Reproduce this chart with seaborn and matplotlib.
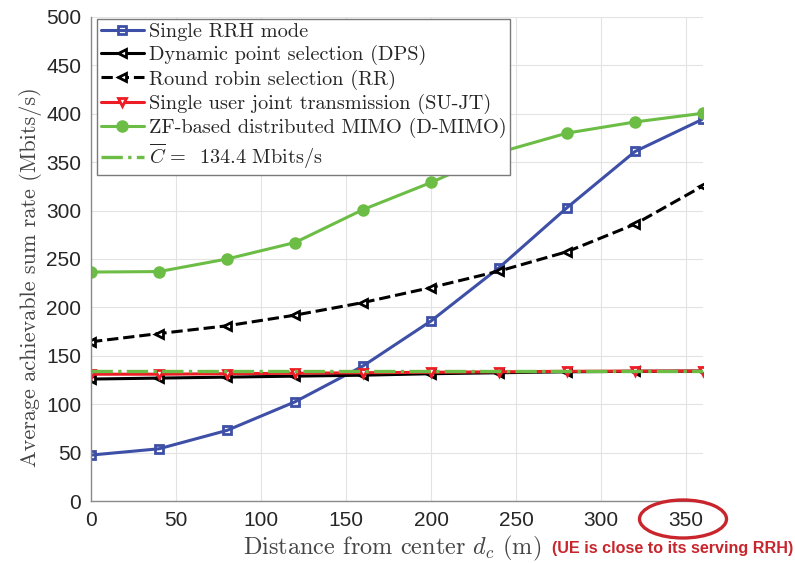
import matplotlib
matplotlib.use("Agg")
import matplotlib.pyplot as plt
from matplotlib.patches import Ellipse
import seaborn as sns

# Veriler
mesafe = [0, 40, 80, 120, 160, 200, 240, 280, 320, 360]
tek_rrh = [47.5, 54, 73, 102.5, 139.5, 186, 241, 303, 361, 394.5]
dps = [126, 127, 128, 129, 130, 131.5, 132.5, 133.5, 134, 134.2]
rr = [164.5, 173, 181, 192, 205, 220.5, 237.5, 257.5, 286, 325.5]
su_jt = [131, 131, 131.5, 132, 132.5, 133, 133.5, 134, 134.2, 134.3]
d_mimo = [236.5, 237, 250, 267, 301, 329, 360, 380, 391.5, 400.5]
C_ORT = 134.4

SERI_ADLARI = [
    "Single RRH mode",
    "Dynamic point selection (DPS)",
    "Round robin selection (RR)",
    "Single user joint transmission (SU-JT)",
    "ZF-based distributed MIMO (D-MIMO)",
]
X_TIKLER = [0, 50, 100, 150, 200, 250, 300, 350]
Y_TIKLER = [0, 50, 100, 150, 200, 250, 300, 350, 400, 450, 500]

MAVI = "#3d4fa6"
YESIL = "#6cbd45"
KIRMIZI = "#ee1c25"
SIYAH = "#000000"
ANOT_KIRMIZI = "#c9252c"

sns.set_theme(style="whitegrid")
plt.rcParams["font.family"] = ["cmr10", "DejaVu Serif"]
plt.rcParams["mathtext.fontset"] = "cm"
plt.rcParams["axes.formatter.use_mathtext"] = True

fig = plt.figure(figsize=(7.95, 5.63), dpi=100)
ax = fig.add_axes([0.1145, 0.110, 0.7698, 0.860])

# (değerler, renk, çizgi, işaret, iç renk, boyut)
stiller = [
    (tek_rrh, MAVI, "-", "s", "none", 5.5),
    (dps, SIYAH, "-", "<", "white", 6),
    (rr, SIYAH, "--", "<", "white", 6),
    (su_jt, KIRMIZI, "-", "v", "white", 6),
    (d_mimo, YESIL, "-", "o", YESIL, 7),
]
for (degerler, renk, cizgi, isaret, ic, boyut), ad in zip(stiller, SERI_ADLARI):
    sns.lineplot(
        x=mesafe, y=degerler, ax=ax, color=renk, linestyle=cizgi,
        marker=isaret, markersize=boyut, markerfacecolor=ic,
        markeredgecolor=renk, markeredgewidth=2.0, linewidth=2.2,
        label=ad,
    )

# Ortalama kapasite çizgisi
ax.axhline(C_ORT, color=YESIL, linestyle="-.", linewidth=2.4,
           label=r"$\overline{C}\,=\,$ 134.4 Mbits/s")

ax.set_xlim(0, 360)
ax.set_ylim(0, 500)
ax.set_xticks(X_TIKLER, labels=[str(t) for t in X_TIKLER],
              fontfamily="Liberation Sans", fontsize=15, color="#262626")
ax.set_yticks(Y_TIKLER, labels=[str(t) for t in Y_TIKLER],
              fontfamily="Liberation Sans", fontsize=15, color="#262626")
ax.tick_params(direction="in", length=5, width=0.8, color="#555555", pad=7)
ax.grid(True, color="#e3e3e3", linewidth=0.8)

for kenar in ["top", "right"]:
    ax.spines[kenar].set_visible(False)
for kenar in ["left", "bottom"]:
    ax.spines[kenar].set_color("#8a8a8a")
    ax.spines[kenar].set_linewidth(1.0)

ax.set_xlabel("Distance from center $d_c$ (m)", fontsize=17.5, color="#444444")
ax.xaxis.set_label_coords(0.492, -0.068)
ax.set_ylabel("Average achievable sum rate (Mbits/s)", fontsize=16, color="#444444")
ax.yaxis.set_label_coords(-0.08, 0.463)

ax.legend(loc="upper left", bbox_to_anchor=(0.0098, 0.996), borderaxespad=0,
          fontsize=14.6, frameon=True, fancybox=False, framealpha=1,
          edgecolor="#7a7a7a", handlelength=2.1, handletextpad=0.25,
          labelspacing=0.2, borderpad=0.2)

# Kırmızı not ve elips
fig.text(552 / 795, 1 - 549 / 563, "(UE is close to its serving RRH)",
         color=ANOT_KIRMIZI, fontweight="bold", fontfamily="Liberation Sans",
         fontsize=11.6, ha="left", va="center")
fig.add_artist(Ellipse((683 / 795, 1 - 519 / 563), 87 / 795, 38 / 563,
                       transform=fig.transFigure, fill=False,
                       edgecolor=ANOT_KIRMIZI, linewidth=2.4))

fig.savefig("out.png", dpi=100)
